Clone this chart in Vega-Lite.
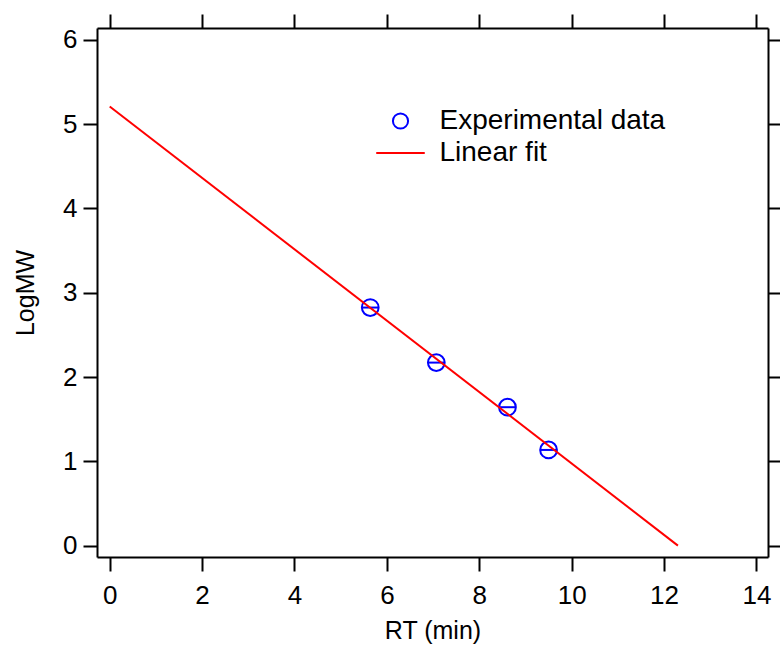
{
  "$schema": "https://vega.github.io/schema/vega-lite/v6.json",
  "width": 671,
  "height": 529,
  "autosize": "none",
  "padding": {"left": 97, "top": 28, "right": 12, "bottom": 90},
  "background": "white",
  "config": {
    "font": "Liberation Sans",
    "view": {"stroke": null},
    "axis": {
      "grid": false,
      "domainColor": "black",
      "domainWidth": 2,
      "tickColor": "black",
      "tickWidth": 2,
      "tickSize": 14,
      "labelFontSize": 26,
      "labelColor": "black",
      "titleFontSize": 25,
      "titleFontWeight": "normal",
      "titleColor": "black"
    },
    "legend": {
      "orient": "none",
      "legendX": 289.5,
      "legendY": 79,
      "labelFontSize": 28,
      "labelColor": "black",
      "labelLimit": 400,
      "symbolSize": 230,
      "symbolStrokeWidth": 2,
      "rowPadding": 4,
      "labelOffset": 25,
      "padding": 0
    }
  },
  "datasets": {
    "points": [
      {"RT": 5.64, "LogMW": 2.824, "lo": 5.47, "hi": 5.81, "series": "Experimental data"},
      {"RT": 7.07, "LogMW": 2.171, "lo": 6.90, "hi": 7.24, "series": "Experimental data"},
      {"RT": 8.61, "LogMW": 1.642, "lo": 8.44, "hi": 8.78, "series": "Experimental data"},
      {"RT": 9.50, "LogMW": 1.135, "lo": 9.33, "hi": 9.67, "series": "Experimental data"}
    ],
    "fit": [
      {"RT": 0, "LogMW": 5.209, "series": "Linear fit"},
      {"RT": 12.3, "LogMW": 0, "series": "Linear fit"}
    ]
  },
  "layer": [
    {
      "data": {"name": "points"},
      "mark": {"type": "rule", "color": "#0000ff", "strokeWidth": 2},
      "encoding": {
        "x": {"field": "lo", "type": "quantitative", "scale": {"domain": [-0.275, 14.25], "nice": false, "zero": false}, "axis": {"orient": "bottom", "title": "RT (min)", "values": [0, 2, 4, 6, 8, 10, 12, 14], "labelPadding": 11, "titlePadding": 10}},
        "x2": {"field": "hi"},
        "y": {"field": "LogMW", "type": "quantitative", "scale": {"domain": [-0.135, 6.14], "nice": false, "zero": false}, "axis": {"orient": "left", "title": "LogMW", "values": [0, 1, 2, 3, 4, 5, 6], "labelPadding": 6, "titlePadding": 24}}
      }
    },
    {
      "data": {"name": "points"},
      "mark": {"type": "point", "filled": false, "strokeWidth": 2, "size": 280, "opacity": 1},
      "encoding": {
        "x": {"field": "RT", "type": "quantitative", "axis": null},
        "y": {"field": "LogMW", "type": "quantitative", "axis": null},
        "color": {"field": "series", "type": "nominal", "scale": {"domain": ["Experimental data", "Linear fit"], "range": ["#0000ff", "#ff0000"]}, "legend": {"title": null}},
        "shape": {"field": "series", "type": "nominal", "scale": {"domain": ["Experimental data", "Linear fit"], "range": ["circle", "M-3.2,0L3.2,0"]}, "legend": {"title": null}}
      }
    },
    {
      "data": {"name": "fit"},
      "mark": {"type": "line", "strokeWidth": 2},
      "encoding": {
        "x": {"field": "RT", "type": "quantitative", "axis": null},
        "y": {"field": "LogMW", "type": "quantitative", "axis": null},
        "color": {"field": "series", "type": "nominal", "legend": {"title": null}}
      }
    },
    {
      "data": {"name": "fit"},
      "mark": {"type": "point", "opacity": 0},
      "encoding": {
        "x": {"field": "RT", "type": "quantitative", "axis": {"orient": "top", "title": null, "labels": false, "values": [0, 2, 4, 6, 8, 10, 12, 14]}},
        "y": {"field": "LogMW", "type": "quantitative", "axis": {"orient": "right", "title": null, "labels": false, "values": [0, 1, 2, 3, 4, 5, 6]}}
      }
    }
  ],
  "resolve": {"axis": {"x": "independent", "y": "independent"}}
}
